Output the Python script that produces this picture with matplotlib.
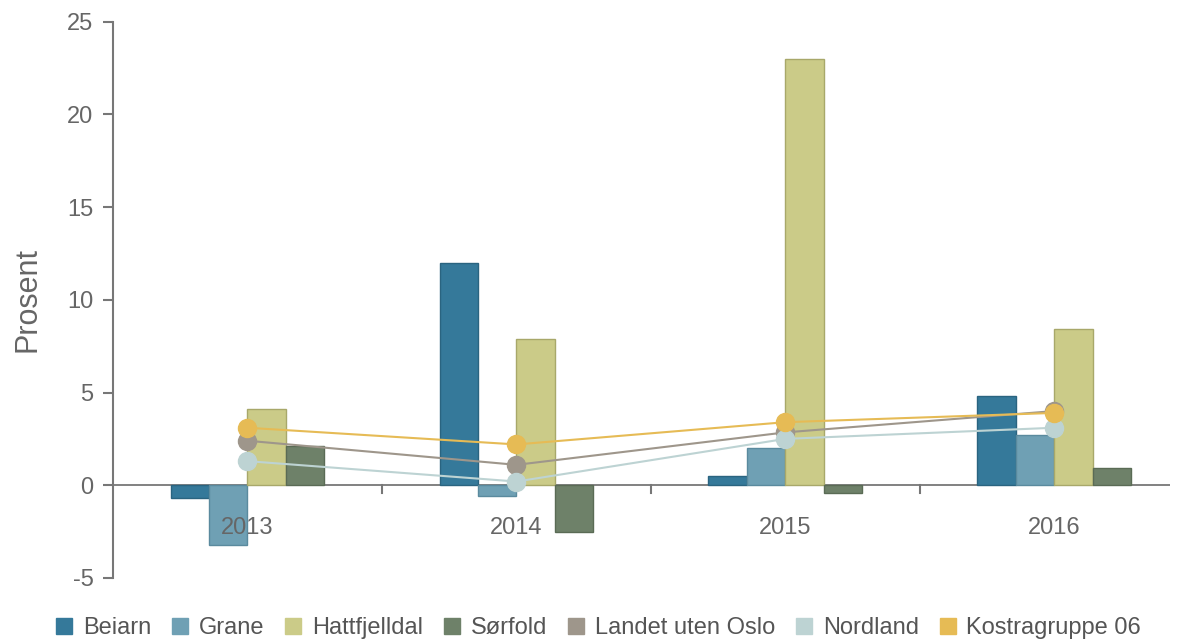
import numpy as np
import matplotlib
matplotlib.use("Agg")
import matplotlib.pyplot as plt
from matplotlib.lines import Line2D

plt.rcParams['font.family'] = ['Liberation Sans', 'DejaVu Sans']
plt.rcParams['axes.unicode_minus'] = False

aar = ['2013', '2014', '2015', '2016']

# stolper
beiarn = [-0.7, 12.0, 0.5, 4.8]
grane = [-3.2, -0.6, 2.0, 2.7]
hattfjelldal = [4.1, 7.9, 23.0, 8.4]
sorfold = [2.1, -2.5, -0.4, 0.95]

# linjer
landet = [2.4, 1.1, 2.85, 4.0]
nordland = [1.3, 0.2, 2.5, 3.1]
kostra = [3.1, 2.2, 3.4, 3.9]

stolper = [('Beiarn', beiarn, '#35799a', '#2a6480'),
           ('Grane', grane, '#6fa0b4', '#5a8a9e'),
           ('Hattfjelldal', hattfjelldal, '#cbcb88', '#a8a86a'),
           ('Sørfold', sorfold, '#6e8169', '#5a6b55')]
linjer = [('Landet uten Oslo', landet, '#9e968b'),
          ('Nordland', nordland, '#bdd3d3'),
          ('Kostragruppe 06', kostra, '#e6bb55')]

fig = plt.figure(figsize=(11.84, 6.44), dpi=100)
ax = fig.add_axes([113/1184, 66/644, (1170-113)/1184, (578-21.5)/644])

x = np.arange(len(aar))
bredde = 0.143
for i, (navn, verdier, farge, kant) in enumerate(stolper):
    ax.bar(x + (i - 1.5) * bredde, verdier, bredde, color=farge,
           edgecolor=kant, linewidth=1, zorder=2)

for navn, verdier, farge in linjer:
    ax.plot(x, verdier, color=farge, linewidth=1.5, marker='o',
            markersize=13, zorder=3)

ax.set_xlim(-0.5, 3.43)
ax.set_ylim(-5, 25)
ax.set_yticks([-5, 0, 5, 10, 15, 20, 25])
ax.tick_params(axis='y', colors='#777777', labelcolor='#666666',
               labelsize=17, length=7, width=1.5, pad=7)
ax.set_xticks([])
for s in ['top', 'right', 'bottom']:
    ax.spines[s].set_visible(False)
ax.spines['left'].set_color('#777777')
ax.spines['left'].set_linewidth(1.5)
ax.axhline(0, color='#777777', linewidth=1.3, zorder=1)

# små merker mellom årene
for b in [0.5, 1.5, 2.5]:
    ax.plot([b, b], [0, -0.4], color='#777777', linewidth=1.5, zorder=1)

for xi, lab in zip(x, aar):
    ax.annotate(lab, (xi, 0), xytext=(0, -31), textcoords='offset points',
                ha='center', va='center', fontsize=17, color='#666666',
                zorder=4)

ax.set_ylabel('Prosent', fontsize=22, color='#666666', labelpad=18)

handles = [Line2D([], [], linestyle='none', marker='s', markersize=11,
                  color=f) for _, _, f, _ in stolper]
handles += [Line2D([], [], linestyle='none', marker='s', markersize=11,
                   color=f) for _, _, f in linjer]
labels = [n for n, *_ in stolper] + [n for n, *_ in linjer]
fig.legend(handles, labels, loc='center', bbox_to_anchor=(0.505, 0.025),
           ncol=7, frameon=False, fontsize=17, labelcolor='#555555',
           handlelength=0.8, handletextpad=0.4, columnspacing=0.82)

fig.savefig('out.png', dpi=100)
